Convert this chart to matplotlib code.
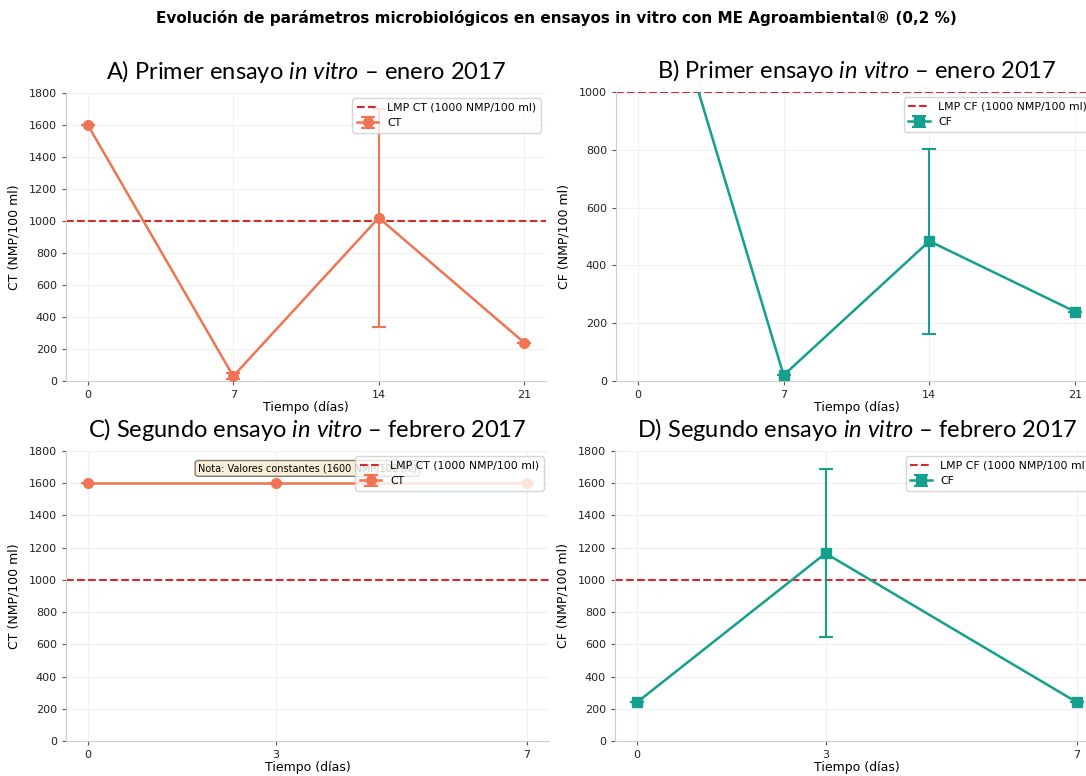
import numpy as np
import matplotlib
matplotlib.use('Agg')
import matplotlib.pyplot as plt

plt.rcParams['font.family'] = ['DejaVu Sans']
plt.rcParams['mathtext.fontset'] = 'custom'
plt.rcParams['mathtext.rm'] = 'Lato'
plt.rcParams['mathtext.it'] = 'Lato:italic'

# datos
dias_1 = [0, 7, 14, 21]
ct_1 = [1600, 30, 1020, 240]
ct_1_err = [0, 20, 680, 0]
cf_1 = [1700, 20, 484, 240]
cf_1_err = [0, 0, 320, 0]

dias_2 = [0, 3, 7]
ct_2 = [1600, 1600, 1600]
ct_2_err = [0, 0, 0]
cf_2 = [240, 1165, 240]
cf_2_err = [0, 522, 0]

lmp = 1000
col_ct = '#F07452'
col_cf = '#14A08D'
col_lmp = '#D62A2A'

W, H = 1086, 776
fig = plt.figure(figsize=(W / 100, H / 100), dpi=100)

def px(l, t, r, b):
    return [l / W, (H - b) / H, (r - l) / W, (b - t) / H]

axA = fig.add_axes(px(66, 93, 546, 381))
axB = fig.add_axes(px(616, 92, 1097, 381))
axC = fig.add_axes(px(66, 451, 549, 741))
axD = fig.add_axes(px(615, 451, 1099, 741))


def panel(ax, x, y, err, color, marker, nombre, titulo, xticks, ylim, yticks):
    ax.axhline(lmp, color=col_lmp, ls='--', lw=1.5, label='LMP %s (1000 NMP/100 ml)' % nombre, zorder=2)
    ax.errorbar(x, y, yerr=err, color=color, marker=marker, markersize=7, lw=1.8,
                capsize=5, capthick=1.5, elinewidth=1.5, label=nombre, zorder=3)
    ax.set_xticks(xticks)
    ax.set_xlim(-0.05 * xticks[-1], 1.05 * xticks[-1])
    ax.set_ylim(*ylim)
    ax.set_yticks(yticks)
    ax.set_xlabel('Tiempo (días)', fontsize=9, labelpad=1)
    ax.set_ylabel('%s (NMP/100 ml)' % nombre, fontsize=9, labelpad=6)
    ax.set_title(titulo, fontsize=17, family='Lato', pad=10)
    ax.grid(True, color='#f0f0f0', lw=0.8)
    ax.set_axisbelow(True)
    for s in ['top', 'right']:
        ax.spines[s].set_visible(False)
    for s in ['left', 'bottom']:
        ax.spines[s].set_color('#cccccc')
        ax.spines[s].set_linewidth(0.8)
    ax.tick_params(labelsize=8, length=3, width=0.8, color='#555555', labelcolor='#222222')
    ax.legend(loc='upper right', fontsize=7.8, framealpha=0.8, edgecolor='#cccccc')


panel(axA, dias_1, ct_1, ct_1_err, col_ct, 'o', 'CT',
      'A) Primer ensayo $\\mathit{in\\ vitro}$ – enero 2017', dias_1, (0, 1800), range(0, 1801, 200))
panel(axB, dias_1, cf_1, cf_1_err, col_cf, 's', 'CF',
      'B) Primer ensayo $\\mathit{in\\ vitro}$ – enero 2017', dias_1, (0, 1000), range(0, 1001, 200))
axC.text(0.5, 0.94, 'Nota: Valores constantes (1600 NMP/100 ml)', transform=axC.transAxes,
         ha='center', va='center', fontsize=7,
         bbox=dict(boxstyle='round,pad=0.3', facecolor='wheat', alpha=0.5))
panel(axC, dias_2, ct_2, ct_2_err, col_ct, 'o', 'CT',
      'C) Segundo ensayo $\\mathit{in\\ vitro}$ – febrero 2017', dias_2, (0, 1800), range(0, 1801, 200))
panel(axD, dias_2, cf_2, cf_2_err, col_cf, 's', 'CF',
      'D) Segundo ensayo $\\mathit{in\\ vitro}$ – febrero 2017', dias_2, (0, 1800), range(0, 1801, 200))

fig.text(556 / W, 1 - 18 / H,
         'Evolución de parámetros microbiológicos en ensayos in vitro con ME Agroambiental® (0,2 %)',
         ha='center', va='center', fontsize=11, fontweight='bold')

fig.savefig('out.png', dpi=100)
